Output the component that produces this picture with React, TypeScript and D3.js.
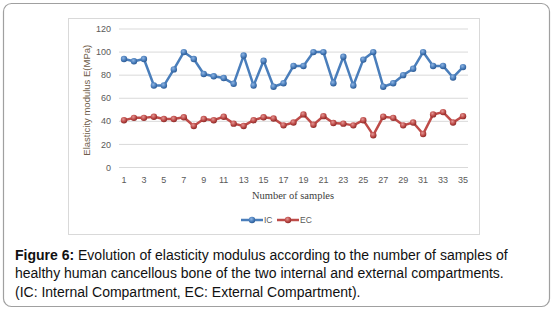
import React from "react";
import * as d3 from "d3";

const samples: number[] = d3.range(1, 36);
const icValues: number[] = [94, 92, 94, 71, 71, 85, 100, 94, 81, 79, 77.5, 72.5, 97, 71, 92.5, 70, 73, 88, 88, 100, 100, 73, 96, 71, 93.5, 100, 70, 73, 80, 85.5, 100, 88, 88, 78, 87];
const ecValues: number[] = [41, 43, 43, 44, 42, 42, 43.5, 36, 42, 41, 44, 38, 36, 41, 43.5, 42.5, 36.5, 39, 46, 37, 44.5, 38.5, 38, 36.5, 41, 28, 44, 43, 36.5, 39, 29, 46, 48, 39, 44.5];
const yTicks: number[] = [0, 20, 40, 60, 80, 100, 120];
const xTickLabels: number[] = samples.filter((s) => s % 2 === 1);
const seriesNames: string[] = ["IC", "EC"];
const captionLines: string[] = [
  "Evolution of elasticity modulus according to the number of samples of",
  "healthy human cancellous bone of the two internal and external compartments.",
  "(IC: Internal Compartment, EC: External Compartment).",
];

const W = 553;
const H = 310;

export default function App() {
  const plotLeft = 119;
  const plotRight = 468;
  const x = d3.scaleBand<number>().domain(samples).range([plotLeft, plotRight]);
  const cx = (s: number) => (x(s) as number) + x.bandwidth() / 2;
  const y = d3.scaleLinear().domain([0, 120]).range([167.5, 29]);

  const series = [
    { name: seriesNames[0], values: icValues, color: "#4a7ebb", dark: "#2c5a94", light: "#8fb4e3" },
    { name: seriesNames[1], values: ecValues, color: "#be4b48", dark: "#8c2a28", light: "#e39896" },
  ];
  const line = d3
    .line<number>()
    .x((_, i) => cx(samples[i]))
    .y((v) => y(v));

  const axisFont = "Liberation Sans, Arial, sans-serif";

  return (
    <svg width={W} height={H} style={{ position: "absolute", left: 0, top: 0, background: "#fff" }}>
      <defs>
        {series.map((s) => (
          <radialGradient key={s.name} id={`g-${s.name}`} cx="40%" cy="35%" r="65%">
            <stop offset="0%" stopColor={s.light} />
            <stop offset="60%" stopColor={s.color} />
            <stop offset="100%" stopColor={s.dark} />
          </radialGradient>
        ))}
      </defs>
      <rect x={3.5} y={3.5} width={546} height={303} rx={8} ry={8} fill="#fff" stroke="#a0a0a0" strokeWidth={1.2} />
      <rect x={68.5} y={18.5} width={411} height={216} fill="#fff" stroke="#d9d9d9" strokeWidth={1} />
      {yTicks.map((t) => (
        <g key={t}>
          <line x1={plotLeft} x2={plotRight} y1={y(t)} y2={y(t)} stroke="#d9d9d9" strokeWidth={1} />
          <text x={111} y={y(t)} dy="0.35em" textAnchor="end" fontSize={9} fill="#595959" fontFamily={axisFont}>
            {t}
          </text>
        </g>
      ))}
      {xTickLabels.map((s) => (
        <text key={s} x={cx(s)} y={180} dy="0.35em" textAnchor="middle" fontSize={9} fill="#595959" fontFamily={axisFont}>
          {s}
        </text>
      ))}
      <text
        transform={`translate(87,${(y(0) + y(120)) / 2 + 2}) rotate(-90)`}
        textAnchor="middle"
        dy="0.35em"
        fontSize={9.5}
        fill="#6e5c48"
        fontFamily={axisFont}
      >
        Elasticity modulus E(MPa)
      </text>
      <text x={293} y={195} dy="0.35em" textAnchor="middle" fontSize={10.5} fill="#404040" fontFamily="Liberation Serif, Times New Roman, serif">
        Number of samples
      </text>
      {series.map((s) => (
        <g key={s.name}>
          <path d={line(s.values) as string} fill="none" stroke={s.color} strokeWidth={2.5} strokeLinejoin="round" />
          {s.values.map((v, i) => (
            <circle key={i} cx={cx(samples[i])} cy={y(v)} r={3.2} fill={`url(#g-${s.name})`} />
          ))}
        </g>
      ))}
      {series.map((s, i) => {
        const lx = 241 + i * 36;
        return (
          <g key={s.name}>
            <line x1={lx} x2={lx + 22} y1={220} y2={220} stroke={s.color} strokeWidth={2.5} />
            <circle cx={lx + 11} cy={220} r={3.2} fill={`url(#g-${s.name})`} />
            <text x={lx + 23} y={220} dy="0.35em" fontSize={8.5} fill="#595959" fontFamily={axisFont}>
              {s.name}
            </text>
          </g>
        );
      })}
      <g fontFamily="Liberation Sans, Arial, sans-serif" fontSize={14} fill="#111">
        <text x={15} y={255} dy="0.35em">
          <tspan fontWeight="bold">Figure 6:</tspan> {captionLines[0]}
        </text>
        <text x={15} y={273} dy="0.35em">
          {captionLines[1]}
        </text>
        <text x={15} y={292} dy="0.35em">
          {captionLines[2]}
        </text>
      </g>
    </svg>
  );
}
